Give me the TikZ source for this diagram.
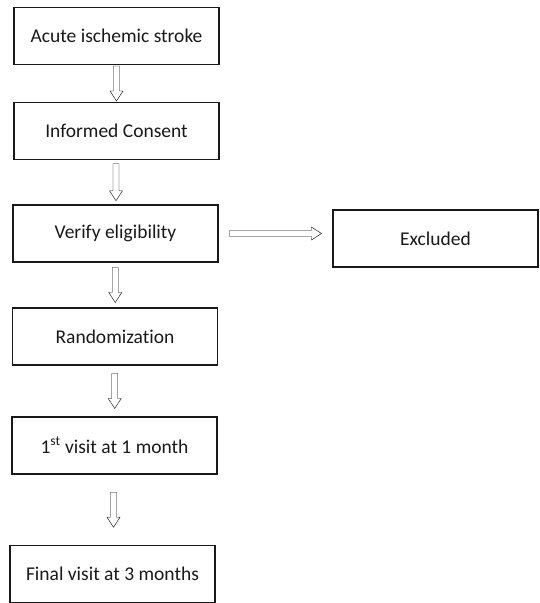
\documentclass[tikz,border=0pt]{standalone}
\usepackage{fontspec}
\setmainfont{Carlito}[Ligatures={NoCommon,NoContextual}]
\usetikzlibrary{calc}
\usetikzlibrary{positioning}

\begin{document}
\begin{tikzpicture}[x=1pt,y=1pt,
  box/.style={draw=black!90,line width=1.3pt,minimum width=205pt,minimum height=57pt,
    inner sep=0pt,font=\fontsize{19.5}{24}\selectfont,text=black!90},
  hollowdown/.style={line width=1.1pt,draw=black!90,to path={
    ($(\tikztostart)!0.5!(\tikztotarget)+(-3pt,#1/2)$) --
    ($(\tikztostart)!0.5!(\tikztotarget)+(-3pt,-#1/2+10pt)$) --
    ($(\tikztostart)!0.5!(\tikztotarget)+(-6.5pt,-#1/2+10pt)$) --
    ($(\tikztostart)!0.5!(\tikztotarget)+(0pt,-#1/2)$) --
    ($(\tikztostart)!0.5!(\tikztotarget)+(6.5pt,-#1/2+10pt)$) --
    ($(\tikztostart)!0.5!(\tikztotarget)+(3pt,-#1/2+10pt)$) --
    ($(\tikztostart)!0.5!(\tikztotarget)+(3pt,#1/2)$) -- cycle}},
  hollowright/.style={line width=1.1pt,draw=black!90,to path={
    ($(\tikztostart)!0.5!(\tikztotarget)+(-#1/2,3pt)$) --
    ($(\tikztostart)!0.5!(\tikztotarget)+(#1/2-10pt,3pt)$) --
    ($(\tikztostart)!0.5!(\tikztotarget)+(#1/2-10pt,6.5pt)$) --
    ($(\tikztostart)!0.5!(\tikztotarget)+(#1/2,0pt)$) --
    ($(\tikztostart)!0.5!(\tikztotarget)+(#1/2-10pt,-6.5pt)$) --
    ($(\tikztostart)!0.5!(\tikztotarget)+(#1/2-10pt,-3pt)$) --
    ($(\tikztostart)!0.5!(\tikztotarget)+(-#1/2,-3pt)$) -- cycle}}]
\useasboundingbox (0,0) rectangle (539,-603);

\node[box] (stroke) at (116.5,-36) {Acute ischemic stroke};
\node[box] (consent) at (116.5,-131) {Informed Consent};
\node[box] (verify) at (115.5,-233.5) {Verify eligibility};
\node[box] (excluded) at (435.5,-238.5) {Excluded};
\node[box] (random) at (115,-336.5) {Randomization};
\node[box] (visit1) at (114.5,-445.5) {1\textsuperscript{st} visit at 1 month};
\node[box] (final) at (112.5,-574) {Final visit at 3 months};

\draw (stroke.south) to[hollowdown=35pt] (consent.north);
\draw (consent.south) to[hollowdown=37pt] (verify.north);
\draw (verify.south) to[hollowdown=35pt] (random.north);
\draw (random.south) to[hollowdown=35pt] (visit1.north);
\draw (visit1.south) to[hollowdown=35pt] (final.north);
\draw (verify.east) to[hollowright=92pt] (verify.east -| excluded.west);
\end{tikzpicture}
\end{document}
